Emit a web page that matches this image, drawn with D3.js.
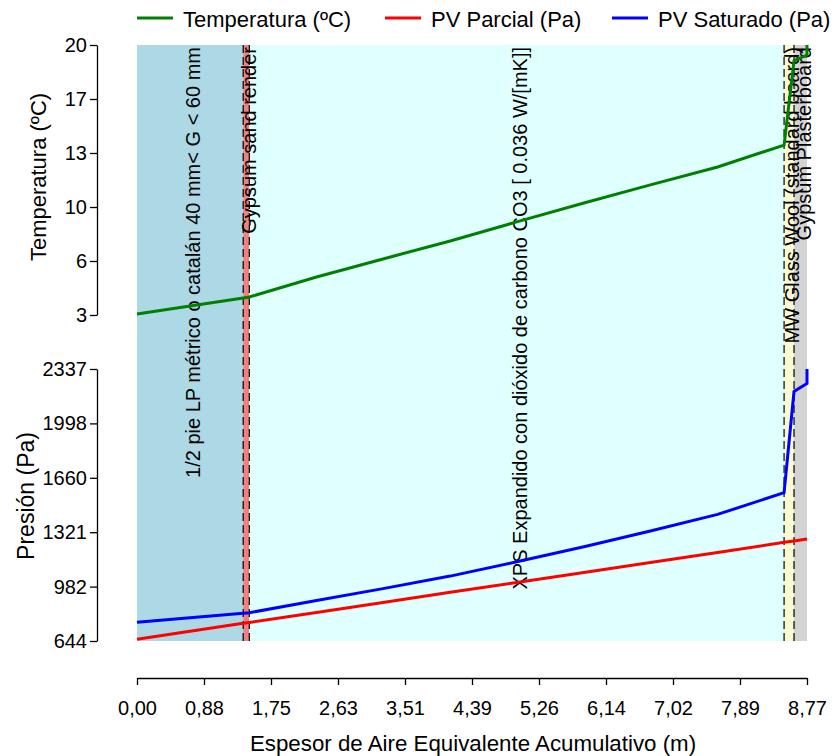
<!DOCTYPE html>
<html><head><meta charset="utf-8">
<script src="https://cdn.jsdelivr.net/npm/d3@7/dist/d3.min.js"></script>
<style>
body{margin:0;background:#fff}
svg text{font-family:"Liberation Sans", Arial, Helvetica, sans-serif;fill:#000}
</style>
</head><body>
<svg id="chart" width="832" height="756"></svg>
<script>
// ---- data ----
const xPos = [0, 1.39, 1.47, 2.35, 3.22, 4.10, 4.97, 5.85, 6.72, 7.60, 8.47, 8.60, 8.77, 8.77];
const temperatura = [3.06, 4.07, 4.13, 5.39, 6.53, 7.66, 8.86, 10.05, 11.19, 12.32, 13.70, 19.01, 19.37, 20.00];
const pvSaturado = [761, 817, 820, 896, 970, 1048, 1137, 1231, 1329, 1432, 1567, 2197, 2247, 2337];
const pvParcial = [655, 754, 759, 822, 884, 947, 1008, 1071, 1133, 1195, 1258, 1267, 1279, 1279];

const layerNames = ["1/2 pie LP métrico o catalán 40 mm< G < 60 mm", "Gypsum sand render",
  "XPS Expandido con dióxido de carbono CO3 [ 0.036 W/[mK]]", "MW Glass Wool (standard board)", "Gypsum Plasterboard"];
const layerStart = [0, 1.39, 1.47, 8.47, 8.60];
const layerEnd = [1.39, 1.47, 8.47, 8.60, 8.77];
const layerColors = ["#ADD8E6", "#F08080", "#E0FFFF", "#FAFAD2", "#D3D3D3"];

const xTicks = [0, 0.877, 1.754, 2.631, 3.508, 4.385, 5.262, 6.139, 7.016, 7.893, 8.77];
const xTickLabels = ["0,00","0,88","1,75","2,63","3,51","4,39","5,26","6,14","7,02","7,89","8,77"];
const tempTicks = [3, 6.4, 9.8, 13.2, 16.6, 20];
const tempTickLabels = ["3","6","10","13","17","20"];
const presTicks = [644, 982.6, 1321.2, 1659.8, 1998.4, 2337];
const presTickLabels = ["644","982","1321","1660","1998","2337"];

const seriesNames = ["Temperatura (ºC)", "PV Parcial (Pa)", "PV Saturado (Pa)"];
const seriesColors = ["#008000", "#FF0000", "#0000FF"];

// ---- layout ----
const svg = d3.select("#chart");
const x = d3.scaleLinear().domain([0, 8.77]).range([137, 807]);
const yT = d3.scaleLinear().domain([3, 20]).range([315, 45]);
const yP = d3.scaleLinear().domain([644, 2337]).range([641, 369]);
const bandTop = 45, bandBottom = 641;

// layer bands
const layers = layerNames.map((n, i) => ({name: n, s: layerStart[i], e: layerEnd[i], c: layerColors[i]}));
svg.append("g").selectAll("rect").data(layers).join("rect")
  .attr("x", d => x(d.s)).attr("width", d => x(d.e) - x(d.s))
  .attr("y", bandTop).attr("height", bandBottom - bandTop)
  .attr("fill", d => d.c);

// boundaries
svg.append("g").selectAll("line").data(layers.slice(1)).join("line")
  .attr("x1", d => x(d.s)).attr("x2", d => x(d.s))
  .attr("y1", bandTop).attr("y2", bandBottom)
  .attr("stroke", "#000").attr("stroke-width", 1.2).attr("stroke-dasharray", "8,4");

// layer labels
svg.append("g").selectAll("text").data(layers).join("text")
  .attr("transform", d => `translate(${(x(d.s) + x(d.e)) / 2 + 3},47) rotate(-90)`)
  .attr("text-anchor", "end").attr("dominant-baseline", "central")
  .attr("font-size", 20).text(d => d.name);

// lines
const idx = d3.range(xPos.length);
const lineT = d3.line().x(i => x(xPos[i])).y(i => yT(temperatura[i]));
const lineS = d3.line().x(i => x(xPos[i])).y(i => yP(pvSaturado[i]));
const lineP = d3.line().x(i => x(xPos[i])).y(i => yP(pvParcial[i]));
svg.append("path").attr("d", lineT(idx)).attr("fill", "none").attr("stroke", seriesColors[0]).attr("stroke-width", 3);
svg.append("path").attr("d", lineP(idx)).attr("fill", "none").attr("stroke", seriesColors[1]).attr("stroke-width", 3);
svg.append("path").attr("d", lineS(idx)).attr("fill", "none").attr("stroke", seriesColors[2]).attr("stroke-width", 3);

// axes
function styleAxis(g) {
  g.selectAll("text").attr("font-size", 20).attr("font-family", '"Liberation Sans", Arial, sans-serif');
  g.selectAll("path,line").attr("stroke", "#000").attr("stroke-width", 1.3);
}
svg.append("g").attr("transform", "translate(97,0)")
  .call(d3.axisLeft(yT).tickValues(tempTicks).tickFormat((d, i) => tempTickLabels[i]).tickSize(7).tickSizeOuter(0).tickPadding(3))
  .call(styleAxis);
svg.append("g").attr("transform", "translate(97,0)")
  .call(d3.axisLeft(yP).tickValues(presTicks).tickFormat((d, i) => presTickLabels[i]).tickSize(7).tickSizeOuter(0).tickPadding(3))
  .call(styleAxis);
svg.append("g").attr("transform", "translate(0,678)")
  .call(d3.axisBottom(x).tickValues(xTicks).tickFormat((d, i) => xTickLabels[i]).tickSize(7).tickSizeOuter(0).tickPadding(16))
  .call(styleAxis);

// titles
svg.append("text").attr("transform", "translate(46,177) rotate(-90)").attr("text-anchor", "middle")
  .attr("font-size", 22).text("Temperatura (ºC)");
svg.append("text").attr("transform", "translate(34,496) rotate(-90)").attr("text-anchor", "middle")
  .attr("font-size", 23).text("Presión (Pa)");
svg.append("text").attr("x", 473).attr("y", 751).attr("text-anchor", "middle")
  .attr("font-size", 22.3).text("Espesor de Aire Equivalente Acumulativo (m)");

// legend
const legX = [137, 385, 612];
const leg = svg.append("g");
seriesNames.forEach((n, i) => {
  leg.append("line").attr("x1", legX[i]).attr("x2", legX[i] + 36).attr("y1", 18).attr("y2", 18)
    .attr("stroke", seriesColors[i]).attr("stroke-width", 3);
  leg.append("text").attr("x", legX[i] + 46).attr("y", 19).attr("dominant-baseline", "central")
    .attr("font-size", 22).text(n);
});
</script>
</body></html>
